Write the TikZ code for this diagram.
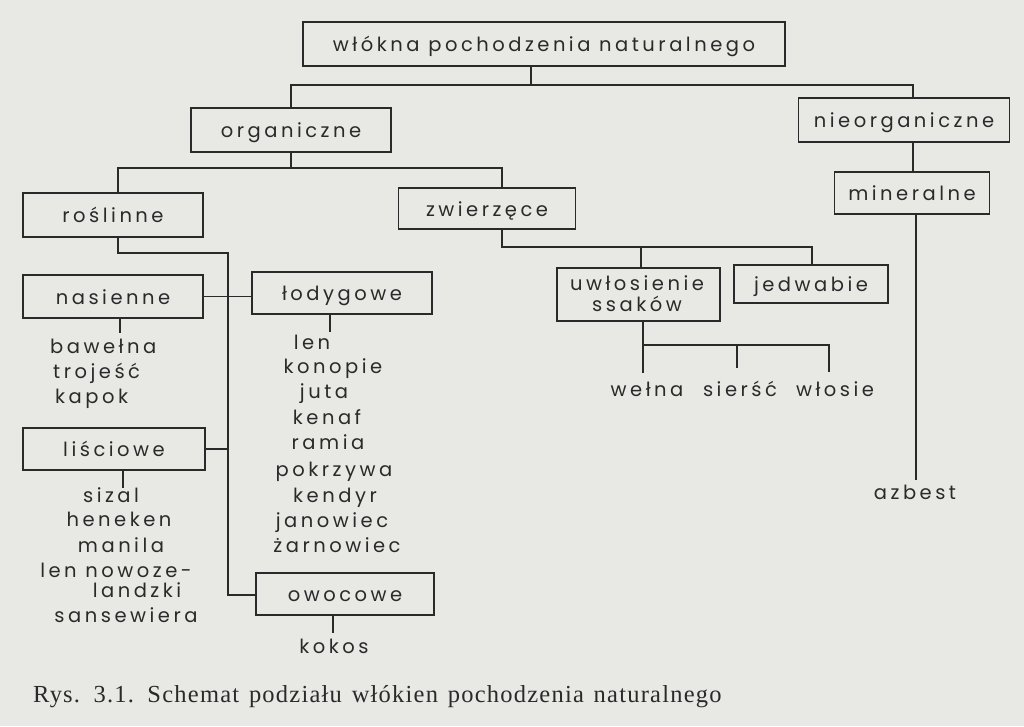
\documentclass[tikz,border=0pt]{standalone}
\usepackage{fontspec}
\newfontfamily\lett[LetterSpace=18]{Poppins}
\newfontfamily\capf[LetterSpace=5]{Liberation Serif}
\definecolor{ink}{RGB}{42,42,42}
\definecolor{paper}{RGB}{232,232,229}
\begin{document}
\begin{tikzpicture}[x=1pt,y=-1pt,
  box/.style={draw=ink, line width=1.8pt, inner sep=0pt, text=ink,
    font=\fontsize{19.5}{22}\selectfont\lett, text height=15pt, text depth=0pt},
  lbl/.style={inner sep=0pt, text=ink, font=\fontsize{19.5}{22}\selectfont\lett, anchor=base, yshift=-6.8pt},
  lblw/.style={lbl, anchor=base west},
  con/.style={draw=ink, line width=1.4pt}]
\fill[paper] (0,0) rectangle (1024,726);
\useasboundingbox (0,0) rectangle (1024,726);
% boxes
\node[box, minimum width=482, minimum height=44] (root) at (544,44) {włókna pochodzenia naturalnego};
\node[box, minimum width=200, minimum height=44] (org) at (291,130) {organiczne};
\node[box, minimum width=211, minimum height=44] (nieorg) at (904,120) {nieorganiczne};
\node[box, minimum width=155, minimum height=42] (mineral) at (912,193) {mineralne};
\node[box, minimum width=180, minimum height=44] (rosl) at (113,215) {roślinne};
\node[box, minimum width=177, minimum height=41] (zwierz) at (487,208.5) {zwierzęce};
\node[box, minimum width=180, minimum height=43] (nas) at (113,296.5) {nasienne};
\node[box, minimum width=180, minimum height=42] (lod) at (342,293) {łodygowe};
\node[box, minimum width=182, minimum height=42] (lisc) at (114,449) {liściowe};
\node[box, minimum width=178, minimum height=42] (owoc) at (345,594) {owocowe};
\node[box, minimum width=163, minimum height=53] (uwl) at (638.5,294.5) {};
\node[lbl] (uwlA) at (637,284) {uwłosienie};
\node[lbl] (uwlB) at (637,305) {ssaków};
\node[box, minimum width=154, minimum height=38] (jedw) at (811,284) {jedwabie};
% leaf labels
\node[lblw] (bawelna) at (50,347) {bawełna};
\node[lblw] (trojesc) at (53,372) {trojeść};
\node[lblw] (kapok) at (55,397) {kapok};
\node[lbl] (len) at (312,343) {len};
\node[lbl] (konopie) at (333,367) {konopie};
\node[lbl] (juta) at (324,392) {juta};
\node[lbl] (kenaf) at (327,418) {kenaf};
\node[lbl] (ramia) at (328,443) {ramia};
\node[lbl] (pokrzywa) at (334,470) {pokrzywa};
\node[lbl] (kendyr) at (335,496) {kendyr};
\node[lbl] (janowiec) at (332,521) {janowiec};
\node[lbl] (zarnowiec) at (337,546) {żarnowiec};
\node[lbl] (sizal) at (111,496) {sizal};
\node[lbl] (heneken) at (119,520) {heneken};
\node[lbl] (manila) at (121,546) {manila};
\node[lbl] (lennz) at (116,571) {len nowoze-};
\node[lbl] (landzki) at (137,591) {landzki};
\node[lbl] (sansewiera) at (126,616) {sansewiera};
\node[lbl] (kokos) at (334,647) {kokos};
\node[lbl] (welna) at (647,390) {wełna};
\node[lbl] (siersc) at (740,390) {sierść};
\node[lbl] (wlosie) at (835,390) {włosie};
\node[lbl] (azbest) at (915,493) {azbest};
% caption
\node[inner sep=0pt, anchor=base west, text=ink, font=\fontsize{24.5}{28}\selectfont\capf] (caption) at (33,702)
  {Rys.\hspace{0.55em}3.1.\hspace{0.55em}Schemat\hspace{0.4em}podziału\hspace{0.4em}włókien\hspace{0.4em}pochodzenia\hspace{0.4em}naturalnego};
% junction coordinates
\coordinate (j0) at (531,85);
\coordinate (j0l) at (291,85);
\coordinate (j0r) at (913,85);
\coordinate (j1) at (291,168);
\coordinate (j1l) at (118,168);
\coordinate (j1r) at (502,168);
\coordinate (j2) at (118,253);
\coordinate (sp) at (228,253);
\coordinate (spe) at (228,595);
\coordinate (j3) at (502,247);
\coordinate (j3l) at (641,247);
\coordinate (j3r) at (812,247);
\coordinate (j4) at (643,345);
\coordinate (j4m) at (737,345);
\coordinate (j4r) at (829,345);
\coordinate (azt) at (916,480);
% connectors
\draw[con] (root.south -| j0) -- (j0);
\draw[con] (org.north) -- (j0l) -- (j0r) -- (nieorg.north -| j0r);
\draw[con] (org.south) -- (j1);
\draw[con] (rosl.north -| j1l) -- (j1l) -- (j1r) -- (zwierz.north -| j1r);
\draw[con] (nieorg.south -| j0r) -- (mineral.north -| j0r);
\draw[con] (mineral.south -| azt) -- (azt);
\draw[con] (rosl.south -| j2) -- (j2) -- (sp) -- (spe) -- (owoc.west |- spe);
\draw[con] (nas.east) -- (lod.west |- nas.east);
\draw[con] (lisc.east) -- (lisc.east -| sp);
\draw[con] (nas.south -| 120,0) -- (120,333);
\draw[con] (lod.south -| 330,0) -- (330,332);
\draw[con] (lisc.south -| 123,0) -- (123,488);
\draw[con] (owoc.south -| 333,0) -- (333,633);
\draw[con] (zwierz.south -| j3) -- (j3) -- (j3r) -- (jedw.north -| j3r);
\draw[con] (j3l) -- (uwl.north -| j3l);
\draw[con] (uwl.south -| j4) -- (j4) -- (j4r) -- (829,372);
\draw[con] (j4) -- (643,373);
\draw[con] (j4m) -- (737,368);
\end{tikzpicture}
\end{document}
